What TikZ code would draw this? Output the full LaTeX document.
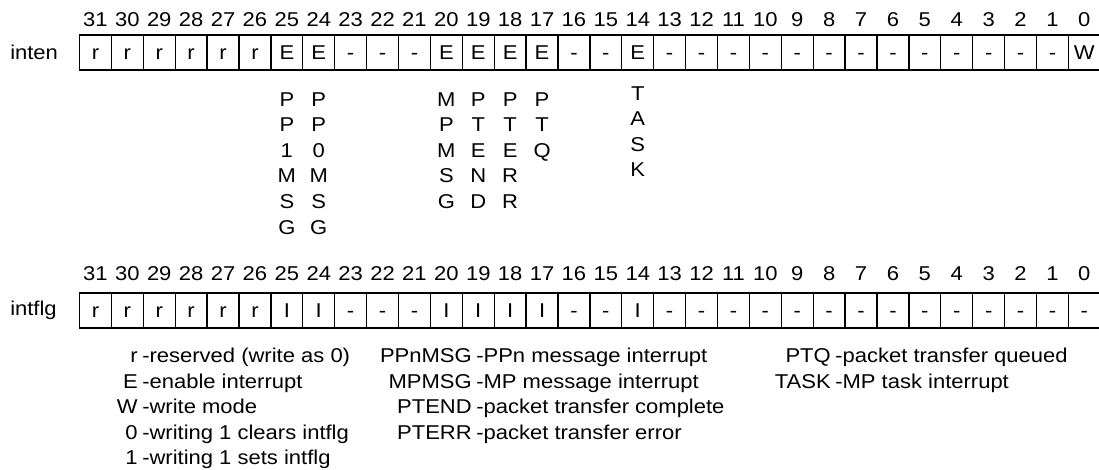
\documentclass[tikz,border=0pt]{standalone}
\usepackage{fontspec}
\setmainfont{Liberation Sans}[FakeStretch=1.1]

\tikzset{
    cell/.style={draw, line width=1pt, minimum width=23.93pt, minimum height=26.25pt,
        inner sep=0pt, text height=10.7pt, text depth=0pt},
    bitno/.style={inner sep=0pt},
    regname/.style={anchor=west, inner sep=0pt},
    vlabel/.style={align=center, anchor=north, inner sep=0pt,
        font=\fontsize{15pt}{19.2pt}\selectfont},
    key/.style={anchor=base east, inner sep=0pt},
    desc/.style={anchor=base west, inner sep=0pt}
}

\begin{document}
\begin{tikzpicture}[x=0.75pt, y=-0.75pt, font=\fontsize{15pt}{18pt}\selectfont]
    \useasboundingbox (0,0) rectangle (1099,469);

    \node[regname] (inten) at (10,52.5) {inten};
    \foreach \c [count=\i from 0] in {r,r,r,r,r,r,E,E,-,-,-,E,E,E,E,-,-,E,-,-,-,-,-,-,-,-,-,-,-,-,-,W} {
        \pgfmathtruncatemacro\b{31-\i}
        \node[cell] (e\b) at ({79.5+(\i+0.5)*31.9},52.5) {\c};
        \node[bitno] (n\b) at ({79.5+(\i+0.5)*31.9},20) {\b};
    }

    \node[vlabel] (pp1msg) at (286.85,92) {P\\P\\1\\M\\S\\G};
    \node[vlabel] (pp0msg) at (318.75,92) {P\\P\\0\\M\\S\\G};
    \node[vlabel] (mpmsg) at (446.35,92) {M\\P\\M\\S\\G};
    \node[vlabel] (ptend) at (478.25,92) {P\\T\\E\\N\\D};
    \node[vlabel] (pterr) at (510.15,92) {P\\T\\E\\R\\R};
    \node[vlabel] (ptq) at (542.05,92) {P\\T\\Q};
    \node[vlabel] (task) at (637.75,86) {T\\A\\S\\K};

    \node[regname] (intflg) at (10,310.5) {intflg};
    \foreach \c [count=\i from 0] in {r,r,r,r,r,r,I,I,-,-,-,I,I,I,I,-,-,I,-,-,-,-,-,-,-,-,-,-,-,-,-,-} {
        \pgfmathtruncatemacro\b{31-\i}
        \node[cell] (f\b) at ({79.5+(\i+0.5)*31.9},310.5) {\c};
        \node[bitno] (m\b) at ({79.5+(\i+0.5)*31.9},274) {\b};
    }

    \node[key] (kr) at (138,362.5) {r};
    \node[desc] (dr) at (142,362.5) {-reserved (write as 0)};
    \node[key] (ke) at (138,388) {E};
    \node[desc] (de) at (142,388) {-enable interrupt};
    \node[key] (kw) at (138,413.5) {W};
    \node[desc] (dw) at (142,413.5) {-write mode};
    \node[key] (k0) at (138,439) {0};
    \node[desc] (d0) at (142,439) {-writing 1 clears intflg};
    \node[key] (k1) at (138,464.5) {1};
    \node[desc] (d1) at (142,464.5) {-writing 1 sets intflg};

    \node[key] (kppn) at (472,362.5) {PPnMSG};
    \node[desc] (dppn) at (476,362.5) {-PPn message interrupt};
    \node[key] (kmp) at (472,388) {MPMSG};
    \node[desc] (dmp) at (476,388) {-MP message interrupt};
    \node[key] (kend) at (472,413.5) {PTEND};
    \node[desc] (dend) at (476,413.5) {-packet transfer complete};
    \node[key] (kerr) at (472,439) {PTERR};
    \node[desc] (derr) at (476,439) {-packet transfer error};

    \node[key] (kptq) at (831,362.5) {PTQ};
    \node[desc] (dptq) at (835,362.5) {-packet transfer queued};
    \node[key] (ktask) at (831,388) {TASK};
    \node[desc] (dtask) at (835,388) {-MP task interrupt};
\end{tikzpicture}
\end{document}
